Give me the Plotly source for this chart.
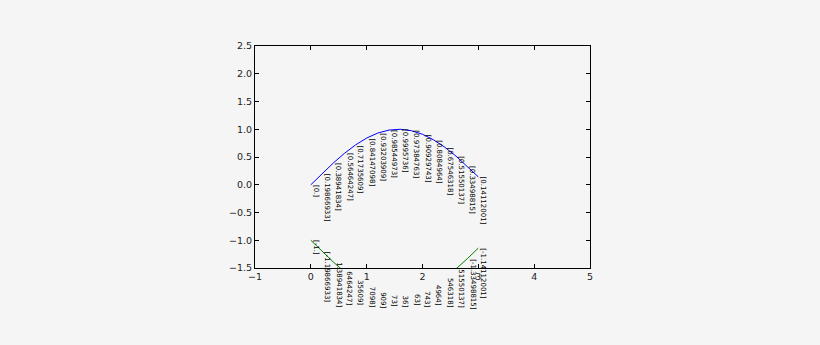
import plotly.graph_objects as go

x_vals = [0.0, 0.2, 0.4, 0.6, 0.8, 1.0, 1.2, 1.4, 1.6, 1.8, 2.0, 2.2, 2.4, 2.6, 2.8, 3.0]
blue_vals = [0.0, 0.19866933, 0.38941834, 0.56464247, 0.71735609, 0.84147098,
             0.93203909, 0.98544973, 0.9995736, 0.97384763, 0.90929743, 0.8084964,
             0.67546318, 0.51550137, 0.33498815, 0.14112001]
green_vals = [-1.0, -1.19866933, -1.38941834, -1.56464247, -1.71735609, -1.84147098,
              -1.93203909, -1.98544973, -1.9995736, -1.97384763, -1.90929743, -1.8084964,
              -1.67546318, -1.51550137, -1.33498815, -1.14112001]
blue_labels = ["[0.]", "[0.19866933]", "[0.38941834]", "[0.56464247]", "[0.71735609]",
               "[0.84147098]", "[0.93203909]", "[0.98544973]", "[0.9995736]", "[0.97384763]",
               "[0.90929743]", "[0.8084964]", "[0.67546318]", "[0.51550137]", "[0.33498815]",
               "[0.14112001]"]
green_labels = ["[-1.]", "[-1.19866933]", "[-1.38941834]", "[-1.56464247]", "[-1.71735609]",
                "[-1.84147098]", "[-1.93203909]", "[-1.98544973]", "[-1.9995736]", "[-1.97384763]",
                "[-1.90929743]", "[-1.8084964]", "[-1.67546318]", "[-1.51550137]", "[-1.33498815]",
                "[-1.14112001]"]
x_ticks = [-1, 0, 1, 2, 3, 4, 5]
y_ticks = [-1.5, -1.0, -0.5, 0.0, 0.5, 1.0, 1.5, 2.0, 2.5]
x_range = [-1, 5]
y_range = [-1.5, 2.5]

BG = "#f5f5f5"
FONT = "DejaVu Sans"
LABEL_SIZE = 7
MARGIN = dict(l=255, r=230, t=46, b=77)
HEIGHT = 345
FIG_EDGE = 308  # bottom edge (px) of the original figure: labels stop there

# DejaVu Sans advance widths (em)
CHAR_W = {"[": 0.390, "]": 0.390, "-": 0.361, ".": 0.318}


def to_paper(v, rng):
    return (v - rng[0]) / (rng[1] - rng[0])


def text_len(s):
    return sum(CHAR_W.get(c, 0.636) for c in s) * LABEL_SIZE


def visible_tail(label, y_val):
    """Part of a label that stays visible between its anchor and the figure edge."""
    plot_h = HEIGHT - MARGIN["t"] - MARGIN["b"]
    y_px = MARGIN["t"] + (1 - to_paper(y_val, y_range)) * plot_h
    avail = FIG_EDGE - y_px
    if text_len(label) <= avail + 4:
        return label
    out = ""
    for c in reversed(label):
        if text_len(c + out) > avail + 1:
            break
        out = c + out
    return out


fig = go.Figure()
fig.add_trace(go.Scatter(x=x_vals, y=blue_vals, mode="lines",
                         line=dict(color="#0000ff", width=1), showlegend=False, hoverinfo="skip"))
fig.add_trace(go.Scatter(x=x_vals, y=green_vals, mode="lines",
                         line=dict(color="#008000", width=1), showlegend=False, hoverinfo="skip"))

annotations = []
for xs, ys, labels in ((x_vals, blue_vals, blue_labels), (x_vals, green_vals, green_labels)):
    for xv, yv, lab in zip(xs, ys, labels):
        txt = visible_tail(lab, yv)
        if not txt:
            continue
        annotations.append(dict(x=to_paper(xv, x_range), y=to_paper(yv, y_range),
                                xref="paper", yref="paper", text=txt, showarrow=False,
                                textangle=90, xanchor="left", yanchor="top", borderpad=0,
                                yshift=1,
                                font=dict(family=FONT, size=LABEL_SIZE, color="#000000")))

axis_common = dict(showgrid=False, zeroline=False, showline=True, linecolor="#000000",
                   linewidth=1, mirror="ticks", ticks="inside", ticklen=4, tickwidth=1,
                   tickcolor="#000000", tickfont=dict(family=FONT, size=9.5, color="#222222"))

fig.update_layout(
    width=820, height=HEIGHT,
    margin=MARGIN,
    paper_bgcolor=BG, plot_bgcolor=BG,
    xaxis=dict(range=x_range, tickvals=x_ticks, ticktext=[("\u2212" + str(-v)) if v < 0 else str(v) for v in x_ticks], **axis_common),
    yaxis=dict(range=y_range, tickvals=y_ticks, ticktext=[("\u2212%.1f" % -v) if v < 0 else "%.1f" % v for v in y_ticks], **axis_common),
    annotations=annotations,
)

fig.write_html("out.html")
